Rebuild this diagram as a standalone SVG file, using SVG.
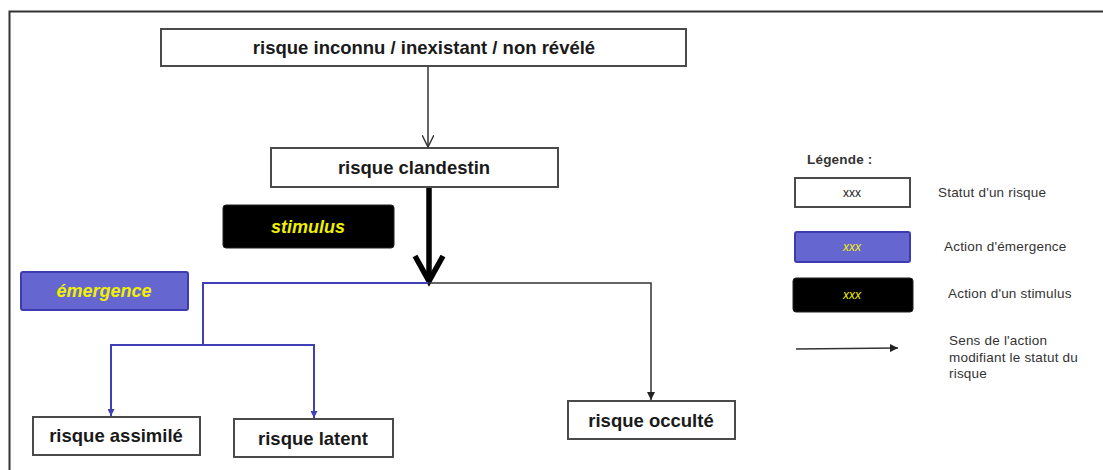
<svg xmlns="http://www.w3.org/2000/svg" width="1103" height="470" viewBox="0 0 1103 470">
<defs>
<style>
.status{fill:#fff;stroke:#4a4a4a;stroke-width:2}
.lbl{font-family:"Liberation Sans",Arial,sans-serif;font-weight:bold;font-size:18.5px;fill:#1a1a1a;text-anchor:middle}
.act{font-family:"Liberation Sans",Arial,sans-serif;font-weight:bold;font-style:italic;font-size:18px;fill:#f0f000;text-anchor:middle}
.emg{fill:#6666d0;stroke:#3c3cb0;stroke-width:2}
.stim{fill:#000;stroke:#222;stroke-width:1}
.leg{font-family:"Liberation Sans",Arial,sans-serif;font-size:13.5px;fill:#333;letter-spacing:0.2px}
.xxx{font-family:"Liberation Sans",Arial,sans-serif;font-size:12px;text-anchor:middle}
.blue{stroke:#3f3fb8;stroke-width:2;fill:none}
.blk{stroke:#333;stroke-width:1.5;fill:none}
</style>
<marker id="ab" viewBox="0 0 10 10" refX="10" refY="5" markerWidth="7" markerHeight="7" markerUnits="userSpaceOnUse" orient="auto"><path d="M0,0L10,5L0,10z" fill="#3f3fb8"/></marker>
<marker id="ak" viewBox="0 0 10 10" refX="10" refY="5" markerWidth="8" markerHeight="8" markerUnits="userSpaceOnUse" orient="auto"><path d="M0,0L10,5L0,10z" fill="#222"/></marker>
<marker id="ao" viewBox="0 0 10 10" refX="10" refY="5" markerWidth="12" markerHeight="12" markerUnits="userSpaceOnUse" orient="auto"><path d="M0,0L10,5L0,10" fill="none" stroke="#333" stroke-width="1.2"/></marker>
</defs>
<rect width="1103" height="470" fill="#fff"/>
<path d="M1103,11.5H9.5V470" fill="none" stroke="#333" stroke-width="2"/>

<g id="connectors">
<line x1="428" y1="67" x2="428" y2="147" class="blk" stroke-width="1.2" marker-end="url(#ao)"/>
<line x1="429" y1="187" x2="429" y2="280" stroke="#000" stroke-width="5.5"/>
<polyline points="415,256 429,281 443,256" fill="none" stroke="#000" stroke-width="5.5" stroke-linejoin="miter"/>
<polyline points="428,283 651,283 651,400" class="blk" marker-end="url(#ak)"/>
<polyline points="428,283 203,283 203,345" class="blue"/>
<polyline points="203,345 111,345 111,416" class="blue" marker-end="url(#ab)"/>
<polyline points="203,345 314,345 314,418" class="blue" marker-end="url(#ab)"/>
</g>

<g id="inconnu"><rect x="161" y="29" width="525" height="37" class="status"/><text x="424" y="54" class="lbl">risque inconnu / inexistant / non révélé</text></g>
<g id="clandestin"><rect x="271" y="148" width="287" height="39" class="status"/><text x="414" y="174" class="lbl">risque clandestin</text></g>
<g id="stimulus"><rect x="223" y="205" width="171" height="43" rx="3" class="stim"/><text x="308" y="233" class="act">stimulus</text></g>
<g id="emergence"><rect x="21" y="272" width="167" height="38" rx="2" class="emg"/><text x="104" y="297" class="act">émergence</text></g>
<g id="assimile"><rect x="33" y="417" width="167" height="38" class="status"/><text x="116" y="442" class="lbl">risque assimilé</text></g>
<g id="latent"><rect x="234" y="419" width="159" height="38" class="status"/><text x="313" y="445" class="lbl">risque latent</text></g>
<g id="occulte"><rect x="568" y="401" width="167" height="38" class="status"/><text x="651" y="427" class="lbl">risque occulté</text></g>

<g id="legend">
<text x="807" y="164" class="leg" font-weight="bold" font-size="14">Légende :</text>
<rect x="795" y="178" width="115" height="29" class="status" stroke-width="1.5"/>
<text x="852" y="197" class="xxx" fill="#222">xxx</text>
<text x="938" y="197" class="leg">Statut d'un risque</text>
<rect x="795" y="232" width="115" height="30" rx="2" class="emg" stroke-width="1.5"/>
<text x="852" y="251" class="xxx" fill="#f0f000" font-style="italic">xxx</text>
<text x="944" y="251" class="leg">Action d'émergence</text>
<rect x="793" y="278" width="120" height="34" rx="3" class="stim"/>
<text x="852" y="299" class="xxx" fill="#f0f000" font-style="italic">xxx</text>
<text x="948" y="298" class="leg">Action d'un stimulus</text>
<line x1="796" y1="349" x2="898" y2="348" class="blk" marker-end="url(#ak)"/>
<text x="949" y="345" class="leg">Sens de l'action</text>
<text x="949" y="362" class="leg">modifiant le statut du</text>
<text x="949" y="378" class="leg">risque</text>
</g>
</svg>
